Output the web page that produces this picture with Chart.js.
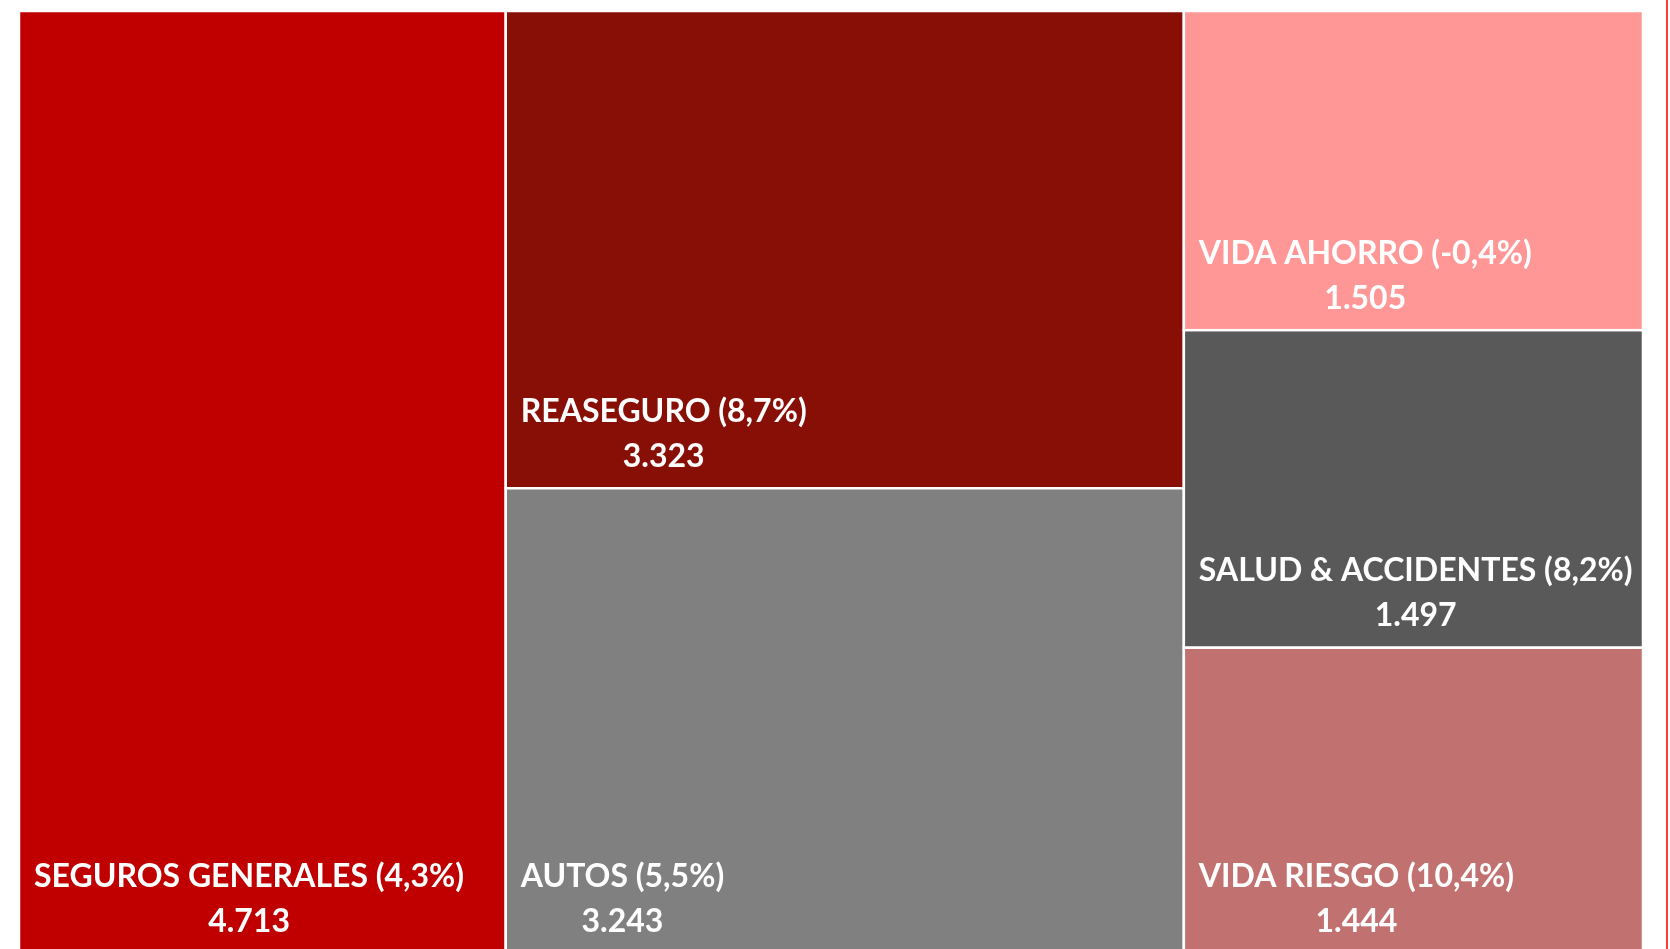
<!DOCTYPE html>
<html>
<head>
<meta charset="utf-8">
<script src="https://cdn.jsdelivr.net/npm/chart.js@4.4.0/dist/chart.umd.min.js"></script>
<style>
    html, body { margin: 0; padding: 0; background: #ffffff; overflow: hidden; }
    #wrap { width: 1670px; height: 954px; }
</style>
</head>
<body>
<div id="wrap"><canvas id="treemap"></canvas></div>
<script>
// datos del treemap
const categories = ["SEGUROS GENERALES", "REASEGURO", "AUTOS", "VIDA AHORRO", "SALUD & ACCIDENTES", "VIDA RIESGO"];
const values = [4713, 3323, 3243, 1505, 1497, 1444];
const growth = [4.3, 8.7, 5.5, -0.4, 8.2, 10.4];
const colors = ["#c00000", "#870f05", "#808080", "#ff9797", "#595959", "#c27171"];
// columnas del treemap (indices de categories)
const columns = [[0], [1, 2], [3, 4, 5]];

const total = values.reduce((a, b) => a + b, 0);

function fmtNumber(v) {
    return String(v).replace(/\B(?=(\d{3})+(?!\d))/g, ".");
}

function fmtPct(v) {
    return v.toFixed(1).replace(".", ",") + "%";
}

// rectangulos en unidades de datos (x: 0..total, y: 0..1)
function buildTiles() {
    const tiles = [];
    let x0 = 0;
    columns.forEach(col => {
        const colSum = col.reduce((s, i) => s + values[i], 0);
        let y0 = 0;
        col.forEach(i => {
            const h = values[i] / colSum;
            tiles.push({ i: i, x0: x0, x1: x0 + colSum, y0: y0, y1: y0 + h });
            y0 += h;
        });
        x0 += colSum;
    });
    return tiles;
}

const treemapPlugin = {
    id: "treemapTiles",
    afterDatasetsDraw(chart) {
        const ctx = chart.ctx;
        const xs = chart.scales.x;
        const ys = chart.scales.y;
        ctx.save();
        buildTiles().forEach(t => {
            const left = xs.getPixelForValue(t.x0);
            const right = xs.getPixelForValue(t.x1);
            const top = ys.getPixelForValue(t.y0);
            const bottom = ys.getPixelForValue(t.y1);
            ctx.fillStyle = colors[t.i];
            ctx.fillRect(left, top, right - left, bottom - top);
            ctx.strokeStyle = "#ffffff";
            ctx.lineWidth = 2.5;
            ctx.strokeRect(left, top, right - left, bottom - top);

            const line1 = categories[t.i] + " (" + fmtPct(growth[t.i]) + ")";
            const line2 = fmtNumber(values[t.i]);
            ctx.font = "bold 32px Lato";
            ctx.fillStyle = "#ffffff";
            ctx.textBaseline = "middle";
            const w = ctx.measureText(line1).width;
            const tx = left + 15;
            ctx.textAlign = "left";
            ctx.fillText(line1, tx, bottom - 77);
            ctx.textAlign = "center";
            ctx.fillText(line2, tx + w / 2, bottom - 32);
        });
        // borde rojo del marco
        ctx.strokeStyle = "#ff3b3b";
        ctx.lineWidth = 2;
        ctx.beginPath();
        ctx.moveTo(chart.width - 3, 0);
        ctx.lineTo(chart.width - 3, chart.height);
        ctx.stroke();
        ctx.restore();
    }
};

new Chart(document.getElementById("treemap"), {
    type: "scatter",
    data: {
        datasets: [{
            label: "Primas",
            data: values.map(() => ({ x: 0, y: 0 })),
            pointRadius: 0
        }]
    },
    options: {
        responsive: true,
        maintainAspectRatio: false,
        animation: false,
        layout: { padding: { left: 19, top: 11, right: 27, bottom: 0 } },
        scales: {
            x: { type: "linear", min: 0, max: total, display: false },
            y: { type: "linear", min: 0, max: 1, reverse: true, display: false }
        },
        plugins: {
            legend: { display: false },
            tooltip: { enabled: false }
        }
    },
    plugins: [treemapPlugin]
});
</script>
</body>
</html>
